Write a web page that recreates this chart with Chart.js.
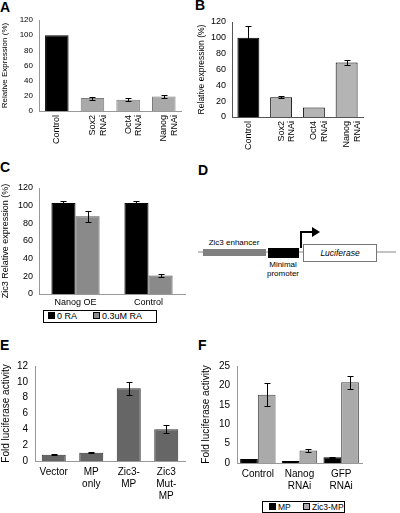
<!DOCTYPE html>
<html>
<head>
<meta charset="utf-8">
<script src="https://cdn.jsdelivr.net/npm/chart.js@4.4.1/dist/chart.umd.min.js"></script>
<style>
  body { margin: 0; background: #fff; font-family: "Liberation Sans", Arial, sans-serif; }
  #fig { position: relative; width: 400px; height: 513px; overflow: hidden; background: #fff; }
  #fig canvas { position: absolute; }
  .tag { position: absolute; font-weight: bold; font-size: 14px; line-height: 14px; color: #000; }
  .legend { position: absolute; border: 1px solid #000; font-size: 9px; line-height: 11px; color: #000; white-space: nowrap; box-sizing: border-box; }
  .legend span.sw { display: inline-block; width: 5px; height: 5px; border: 1px solid #000; margin: 0 2px 0 0; vertical-align: 0px; }
  #diagram { position: absolute; left: 196px; top: 225px; }
</style>
</head>
<body>
<div id="fig">
  <div class="tag" style="left:0px;top:0px">A</div>
  <div class="tag" style="left:195px;top:-2px">B</div>
  <div class="tag" style="left:0px;top:160px">C</div>
  <div class="tag" style="left:198px;top:163px">D</div>
  <div class="tag" style="left:0px;top:338px">E</div>
  <div class="tag" style="left:198px;top:338px">F</div>

  <canvas id="chartA" width="190" height="160" style="left:0px;top:0px"></canvas>
  <canvas id="chartB" width="203" height="160" style="left:197px;top:0px"></canvas>
  <canvas id="chartC" width="195" height="135" style="left:0px;top:172px"></canvas>
  <canvas id="chartE" width="195" height="168" style="left:0px;top:345px"></canvas>
  <canvas id="chartF" width="200" height="155" style="left:200px;top:345px"></canvas>

  <div class="legend" style="left:43px;top:310px;width:114px;height:13px;padding-left:4px">
    <span class="sw" style="background:#000"></span>0 RA
    <span class="sw" style="background:#8a8a8a;margin-left:14px"></span>0.3uM RA
  </div>
  <div class="legend" style="left:262px;top:501px;width:83px;height:12px;padding-left:6px;font-size:8.5px;line-height:10px">
    <span class="sw" style="background:#000"></span>MP
    <span class="sw" style="background:#aaa;margin-left:10px"></span>Zic3-MP
  </div>

  <svg id="diagram" width="204" height="60" font-family="Liberation Sans, Arial, sans-serif">
    <line x1="2" y1="27" x2="200" y2="27" stroke="#888" stroke-width="1"/>
    <rect x="7" y="24" width="63" height="7" fill="#808080"/>
    <rect x="72" y="23" width="31" height="10" fill="#000"/>
    <rect x="107.5" y="19.5" width="73" height="17" fill="#fff" stroke="#777"/>
    <text x="144" y="31" font-size="8.5" font-style="italic" text-anchor="middle">Luciferase</text>
    <polyline points="105,23 105,7 117,7" fill="none" stroke="#000" stroke-width="2"/>
    <polygon points="116,2 124,7 116,12" fill="#000"/>
    <text x="38" y="20" font-size="8" text-anchor="middle">Zic3 enhancer</text>
    <text x="87" y="42" font-size="8" text-anchor="middle">Minimal</text>
    <text x="87" y="51" font-size="8" text-anchor="middle">promoter</text>
  </svg>
</div>

<script>
// Panel A
const labelsA = ['Control', ['Sox2', 'RNAi'], ['Oct4', 'RNAi'], ['Nanog', 'RNAi']];
const valuesA = [100, 17, 15, 19];
const errorsA = [0, 2, 2, 2];

// Panel B
const labelsB = ['Control', ['Sox2', 'RNAi'], ['Oct4', 'RNAi'], ['Nanog', 'RNAi']];
const valuesB = [100, 25, 12, 69];
const errorsB = [15, 1, 0, 3];

// Panel C
const labelsC = ['Nanog OE', 'Control'];
const seriesC0 = [103, 103];      // 0 RA
const errorsC0 = [2, 2];
const seriesC1 = [88, 21];        // 0.3uM RA
const errorsC1 = [6, 2];

// Panel E
const labelsE = ['Vector', ['MP', 'only'], ['Zic3-', 'MP'], ['Zic3', 'Mut-', 'MP']];
const valuesE = [0.8, 1.05, 9.2, 4.0];
const errorsE = [0.1, 0.1, 0.8, 0.5];

// Panel F
const labelsF = ['Control', ['Nanog', 'RNAi'], ['GFP', 'RNAi']];
const seriesF0 = [1.0, 0.5, 1.5];   // MP
const errorsF0 = [0, 0.1, 0.1];
const seriesF1 = [17.6, 3.2, 20.8]; // Zic3-MP
const errorsF1 = [3.0, 0.3, 1.6];

const FONT = '"Liberation Sans", Arial, sans-serif';

// barras de error
const errorBars = {
    id: 'errorBars',
    afterDatasetsDraw(chart) {
        const ctx = chart.ctx;
        const y = chart.scales.y;
        chart.data.datasets.forEach((ds, i) => {
            if (!ds.errors) return;
            const meta = chart.getDatasetMeta(i);
            meta.data.forEach((bar, j) => {
                const e = ds.errors[j];
                if (!e) return;
                const v = ds.data[j];
                const top = Math.round(y.getPixelForValue(v + e)) + 0.5;
                const bot = Math.round(y.getPixelForValue(v - e)) + 0.5;
                const x = Math.round(bar.x) + 0.5;
                ctx.save();
                ctx.strokeStyle = '#000';
                ctx.lineWidth = 1;
                ctx.beginPath();
                ctx.moveTo(x, top); ctx.lineTo(x, bot);
                ctx.moveTo(x - 3, top); ctx.lineTo(x + 3, top);
                ctx.moveTo(x - 3, bot); ctx.lineTo(x + 3, bot);
                ctx.stroke();
                ctx.restore();
            });
        });
    }
};

function makeBars(id, o) {
    new Chart(document.getElementById(id), {
        type: 'bar',
        data: { labels: o.labels, datasets: o.datasets },
        options: {
            responsive: false,
            animation: false,
            layout: { padding: o.padding },
            plugins: { legend: { display: false }, tooltip: { enabled: false } },
            scales: {
                x: {
                    grid: { display: false, drawTicks: false },
                    border: { display: true, color: o.axisColor, width: 1 },
                    ticks: {
                        color: '#000', font: { family: FONT, size: o.xFont },
                        autoSkip: false, padding: o.xPad,
                        minRotation: o.rot, maxRotation: o.rot
                    },
                    afterFit: s => { s.height = o.xHeight; }
                },
                y: {
                    min: 0, max: o.max,
                    grid: { display: false, drawTicks: false },
                    border: { display: true, color: o.axisColor, width: 1 },
                    ticks: { stepSize: o.step, color: '#000', font: { family: FONT, size: o.yFont }, padding: o.yPad },
                    title: { display: true, text: o.yTitle, color: '#000', font: { family: FONT, size: o.titleFont }, padding: 0 },
                    afterFit: s => { s.width = o.yWidth; }
                }
            }
        },
        plugins: [errorBars]
    });
}

makeBars('chartA', {
    labels: labelsA,
    datasets: [{
        data: valuesA, errors: errorsA,
        backgroundColor: ['#000', '#a9a9a9', '#a9a9a9', '#a9a9a9'],
        borderColor: ['#000', '#7a7a7a', '#7a7a7a', '#7a7a7a'],
        borderWidth: 1, barPercentage: 0.66, categoryPercentage: 1
    }],
    padding: { top: 20, right: 5, left: 0, bottom: 0 },
    xHeight: 49, yWidth: 39, xFont: 9, yFont: 8, titleFont: 8, xPad: 4, yPad: 6,
    rot: 90, max: 120, step: 20, yTitle: 'Relative Expression (%)', axisColor: '#999'
});

makeBars('chartB', {
    labels: labelsB,
    datasets: [{
        data: valuesB, errors: errorsB,
        backgroundColor: ['#000', '#b4b4b4', '#b4b4b4', '#b4b4b4'],
        borderColor: '#000',
        borderWidth: 1, barPercentage: 0.67, categoryPercentage: 1
    }],
    padding: { top: 22, right: 37, left: 0, bottom: 0 },
    xHeight: 43, yWidth: 35, xFont: 9, yFont: 9, titleFont: 8.5, xPad: 4, yPad: 6,
    rot: 90, max: 120, step: 20, yTitle: 'Relative expression (%)', axisColor: '#555'
});

makeBars('chartC', {
    labels: labelsC,
    datasets: [
        { data: seriesC0, errors: errorsC0, backgroundColor: '#000', borderColor: '#000', borderWidth: 1, barPercentage: 1, categoryPercentage: 0.66 },
        { data: seriesC1, errors: errorsC1, backgroundColor: '#8a8a8a', borderColor: '#555', borderWidth: 1, barPercentage: 1, categoryPercentage: 0.66 }
    ],
    padding: { top: 16, right: 10, left: 0, bottom: 0 },
    xHeight: 13, yWidth: 39, xFont: 9, yFont: 9, titleFont: 9, xPad: 3, yPad: 6,
    rot: 0, max: 120, step: 20, yTitle: 'Zic3 Relative expression (%)', axisColor: '#999'
});

makeBars('chartE', {
    labels: labelsE,
    datasets: [{
        data: valuesE, errors: errorsE,
        backgroundColor: '#666', borderColor: '#333',
        borderWidth: 1, barPercentage: 0.64, categoryPercentage: 1
    }],
    padding: { top: 21, right: 10, left: 0, bottom: 0 },
    xHeight: 52, yWidth: 35, xFont: 10, yFont: 10, titleFont: 10, xPad: 5, yPad: 7,
    rot: 0, max: 12, step: 2, yTitle: 'Fold luciferase activity', axisColor: '#999'
});

makeBars('chartF', {
    labels: labelsF,
    datasets: [
        { data: seriesF0, errors: errorsF0, backgroundColor: '#000', borderColor: '#000', borderWidth: 1, barPercentage: 1, categoryPercentage: 0.85 },
        { data: seriesF1, errors: errorsF1, backgroundColor: '#aaa', borderColor: '#444', borderWidth: 1, barPercentage: 1, categoryPercentage: 0.85 }
    ],
    padding: { top: 21, right: 38, left: 0, bottom: 0 },
    xHeight: 37, yWidth: 37, xFont: 10, yFont: 10, titleFont: 10, xPad: 5, yPad: 7,
    rot: 0, max: 25, step: 5, yTitle: 'Fold luciferase activity', axisColor: '#999'
});
</script>
</body>
</html>
